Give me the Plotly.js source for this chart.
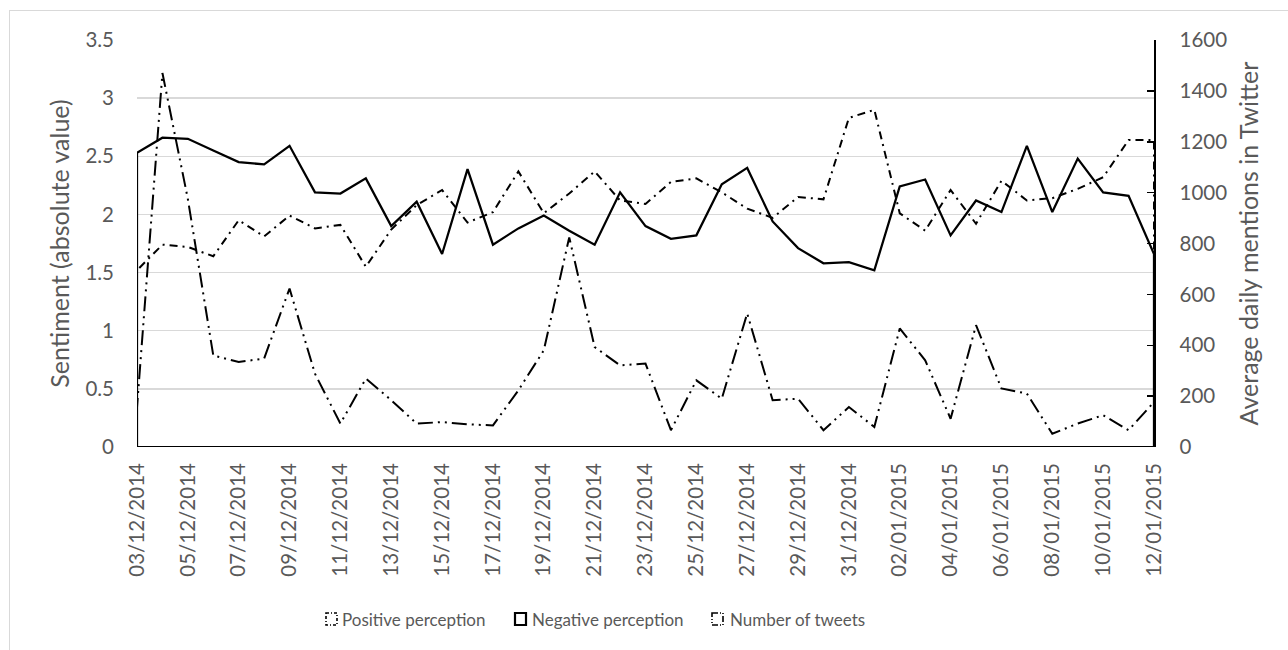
<!DOCTYPE html>
<html>
<head>
<meta charset="utf-8">
<script src="https://cdn.plot.ly/plotly-3.0.1.min.js"></script>
<style>
  html, body { margin: 0; padding: 0; background: #ffffff; }
  #frame { position: absolute; left: 9px; top: 10px; width: 1400px; height: 800px; border: 1px solid #d9d9d9; box-sizing: border-box; }
  #chart { position: absolute; left: 0; top: 0; width: 1288px; height: 650px; }
</style>
</head>
<body>
<div id="frame"></div>
<div id="chart"></div>
<script>
const dates = [
  "03/12/2014","04/12/2014","05/12/2014","06/12/2014","07/12/2014","08/12/2014","09/12/2014",
  "10/12/2014","11/12/2014","12/12/2014","13/12/2014","14/12/2014","15/12/2014","16/12/2014",
  "17/12/2014","18/12/2014","19/12/2014","20/12/2014","21/12/2014","22/12/2014","23/12/2014",
  "24/12/2014","25/12/2014","26/12/2014","27/12/2014","28/12/2014","29/12/2014","30/12/2014",
  "31/12/2014","01/01/2015","02/01/2015","03/01/2015","04/01/2015","05/01/2015","06/01/2015",
  "07/01/2015","08/01/2015","09/01/2015","10/01/2015","11/01/2015","12/01/2015"
];

const positivePerception = [
  1.52, 1.74, 1.72, 1.64, 1.95, 1.81, 1.99, 1.88, 1.91,
  1.55, 1.87, 2.08, 2.21, 1.93, 2.02, 2.37, 2.01, 2.18, 2.37, 2.12,
  2.09, 2.28, 2.31, 2.19, 2.05, 1.97, 2.15, 2.13, 2.83, 2.90,
  2.01, 1.86, 2.21, 1.92, 2.29, 2.12, 2.14, 2.22, 2.32, 2.64, 2.64
];

const negativePerception = [
  2.53, 2.66, 2.65, 2.55, 2.45, 2.43, 2.59, 2.19, 2.18,
  2.31, 1.90, 2.11, 1.66, 2.39, 1.74, 1.88, 1.99, 1.86, 1.74, 2.19,
  1.90, 1.79, 1.82, 2.26, 2.40, 1.94, 1.71, 1.58, 1.59, 1.52,
  2.24, 2.30, 1.82, 2.12, 2.02, 2.59, 2.02, 2.48, 2.19, 2.16, 1.66
];

const numberOfTweets = [
  156, 1470, 975, 360, 334, 348, 623, 288, 92,
  269, 184, 92, 98, 89, 85, 223, 380, 824, 393, 321,
  328, 66, 262, 190, 525, 184, 190, 66, 157, 79,
  466, 341, 111, 479, 230, 210, 52, 92, 125, 66, 177
];

const tickLabels = dates.filter((d, i) => i % 2 === 0);

const seriesNames = ["Positive perception", "Negative perception", "Number of tweets"];

// Excel-style unfilled area outline: baseline -> values -> baseline -> back
function outline(values) {
  const first = dates[0], last = dates[dates.length - 1];
  return {
    x: [first].concat(dates, [last, first]),
    y: [0].concat(values, [0, 0])
  };
}

const font = "Lato, 'Open Sans', sans-serif";
const grey = "#595959";
const dashPos = "8px,5px,2px,5px";
const dashTw = "15px,5px,2px,5px,2px,5px";

const pos = outline(positivePerception);
const neg = outline(negativePerception);
const tw = outline(numberOfTweets);

const traces = [
  {
    x: pos.x, y: pos.y, name: seriesNames[0], type: "scatter", mode: "lines",
    fill: "toself", fillcolor: "rgba(0,0,0,0)",
    line: { color: "#000000", width: 2, dash: dashPos },
    yaxis: "y", hoverinfo: "skip", showlegend: false
  },
  {
    x: tw.x, y: tw.y, name: seriesNames[2], type: "scatter", mode: "lines",
    fill: "toself", fillcolor: "rgba(0,0,0,0)",
    line: { color: "#000000", width: 2, dash: dashTw },
    yaxis: "y2", hoverinfo: "skip", showlegend: false
  },
  {
    x: neg.x, y: neg.y, name: seriesNames[1], type: "scatter", mode: "lines",
    fill: "toself", fillcolor: "rgba(0,0,0,0)",
    line: { color: "#000000", width: 2.25 },
    yaxis: "y", hoverinfo: "skip", showlegend: false
  }
];

// plot area in pixels (for placing the hand-made legend)
const M = { l: 137, r: 134, t: 40, b: 203 };
const W = 1288, H = 650;
const pw = W - M.l - M.r, ph = H - M.t - M.b;
const px = v => (v - M.l) / pw;
const py = v => (H - M.b - v) / ph;

// legend: icon box [x0,x1], text left edge
const legendItems = [
  { name: seriesNames[0], box: [326, 337], text: 340, dash: "3px,2px,1px,2px", width: 1.6 },
  { name: seriesNames[1], box: [515, 526], text: 530, dash: "solid", width: 2.2 },
  { name: seriesNames[2], box: [712, 723], text: 728, dash: "6px,2px,1px,2px,1px,2px", width: 1.6 }
];
const legendY = 619;

const shapes = legendItems.map(it => ({
  type: "rect", xref: "paper", yref: "paper",
  x0: px(it.box[0]), x1: px(it.box[1]), y0: py(legendY - 6), y1: py(legendY + 6),
  line: { color: "#000000", width: it.width, dash: it.dash }, fillcolor: "rgba(0,0,0,0)"
}));

const annotations = legendItems.map(it => ({
  xref: "paper", yref: "paper", x: px(it.text), y: py(legendY),
  xanchor: "left", yanchor: "middle", showarrow: false, text: it.name,
  font: { family: font, size: 17, color: grey }
}));

const layout = {
  width: W, height: H,
  paper_bgcolor: "rgba(0,0,0,0)", plot_bgcolor: "rgba(0,0,0,0)",
  margin: M,
  font: { family: font, color: grey, size: 16 },
  showlegend: false,
  shapes: shapes,
  annotations: annotations,
  xaxis: {
    type: "category", categoryorder: "array", categoryarray: dates,
    range: [0, dates.length - 1], automargin: false,
    tickmode: "array", tickvals: tickLabels, ticktext: tickLabels,
    tickangle: -90, ticks: "", showgrid: false, zeroline: false, showline: false,
    tickfont: { family: font, size: 20.5, color: grey },
    ticklabelstandoff: 11
  },
  yaxis: {
    range: [0, 3.5], dtick: 0.5, tick0: 0, automargin: false,
    showgrid: true, gridcolor: "#d9d9d9", gridwidth: 1.3,
    zeroline: false, showline: false, ticks: "",
    tickfont: { family: font, size: 20.5, color: grey },
    ticklabelstandoff: 22,
    title: { text: "Sentiment (absolute value)", font: { family: font, size: 25, color: grey }, standoff: 8 }
  },
  yaxis2: {
    overlaying: "y", side: "right", automargin: false,
    range: [0, 1600], dtick: 200, tick0: 0,
    showgrid: false, zeroline: false,
    showline: true, linecolor: "#000000", linewidth: 1.5,
    ticks: "inside", ticklen: 7, tickwidth: 1.5, tickcolor: "#000000",
    ticklabelposition: "outside",
    tickfont: { family: font, size: 20.5, color: grey },
    ticklabelstandoff: 20,
    title: { text: "Average daily mentions in Twitter", font: { family: font, size: 25, color: grey }, standoff: 14 }
  }
};

Plotly.newPlot("chart", traces, layout, { displayModeBar: false, staticPlot: true });
</script>
</body>
</html>
